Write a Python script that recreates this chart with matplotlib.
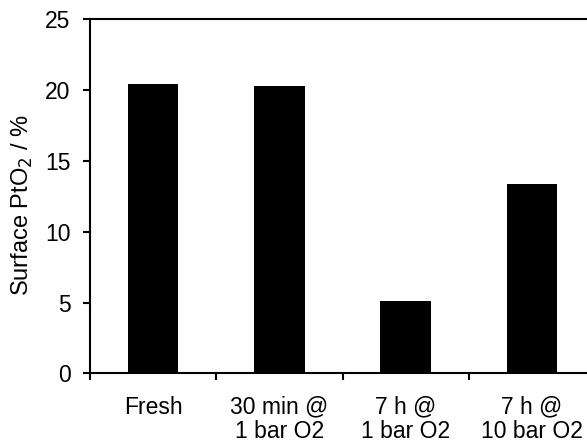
import numpy as np
import matplotlib
matplotlib.use("Agg")
import matplotlib.pyplot as plt

plt.rcParams['font.family'] = ['Liberation Sans', 'DejaVu Sans']

# data
categories = ["Fresh", "30 min @\n1 bar O2", "7 h @\n1 bar O2", "7 h @\n10 bar O2"]
pto2 = [20.4, 20.3, 5.1, 13.4]

W, H = 587, 442
fig = plt.figure(figsize=(W / 100, H / 100), dpi=100)
# axes runs a little past the right edge of the picture, like the original crop
ax = fig.add_axes([90 / W, 1 - 373.3 / H, 505.2 / W, 354 / H])

x = np.arange(len(categories))
ax.bar(x, pto2, width=0.40, color='black')

ax.set_xlim(-0.5, len(categories) - 0.5)
ax.set_ylim(0, 25)
ax.set_yticks([0, 5, 10, 15, 20, 25])

ax.set_xticks(x)
ax.set_xticklabels(categories, fontsize=16.5, linespacing=1.1)
ax.set_xticks(np.arange(len(categories) + 1) - 0.5, minor=True)
ax.tick_params(axis='x', which='major', length=0, pad=16)
ax.tick_params(axis='x', which='minor', length=5, width=1.5, direction='out')
ax.tick_params(axis='y', length=5, width=1.5, direction='out', labelsize=16.5, pad=9)

for s in ax.spines.values():
    s.set_linewidth(1.5)

ax.set_ylabel("Surface PtO$_2$ / %", fontsize=17)
ax.yaxis.set_label_coords(-0.108, 0.475)

fig.savefig("out.png", dpi=100)
